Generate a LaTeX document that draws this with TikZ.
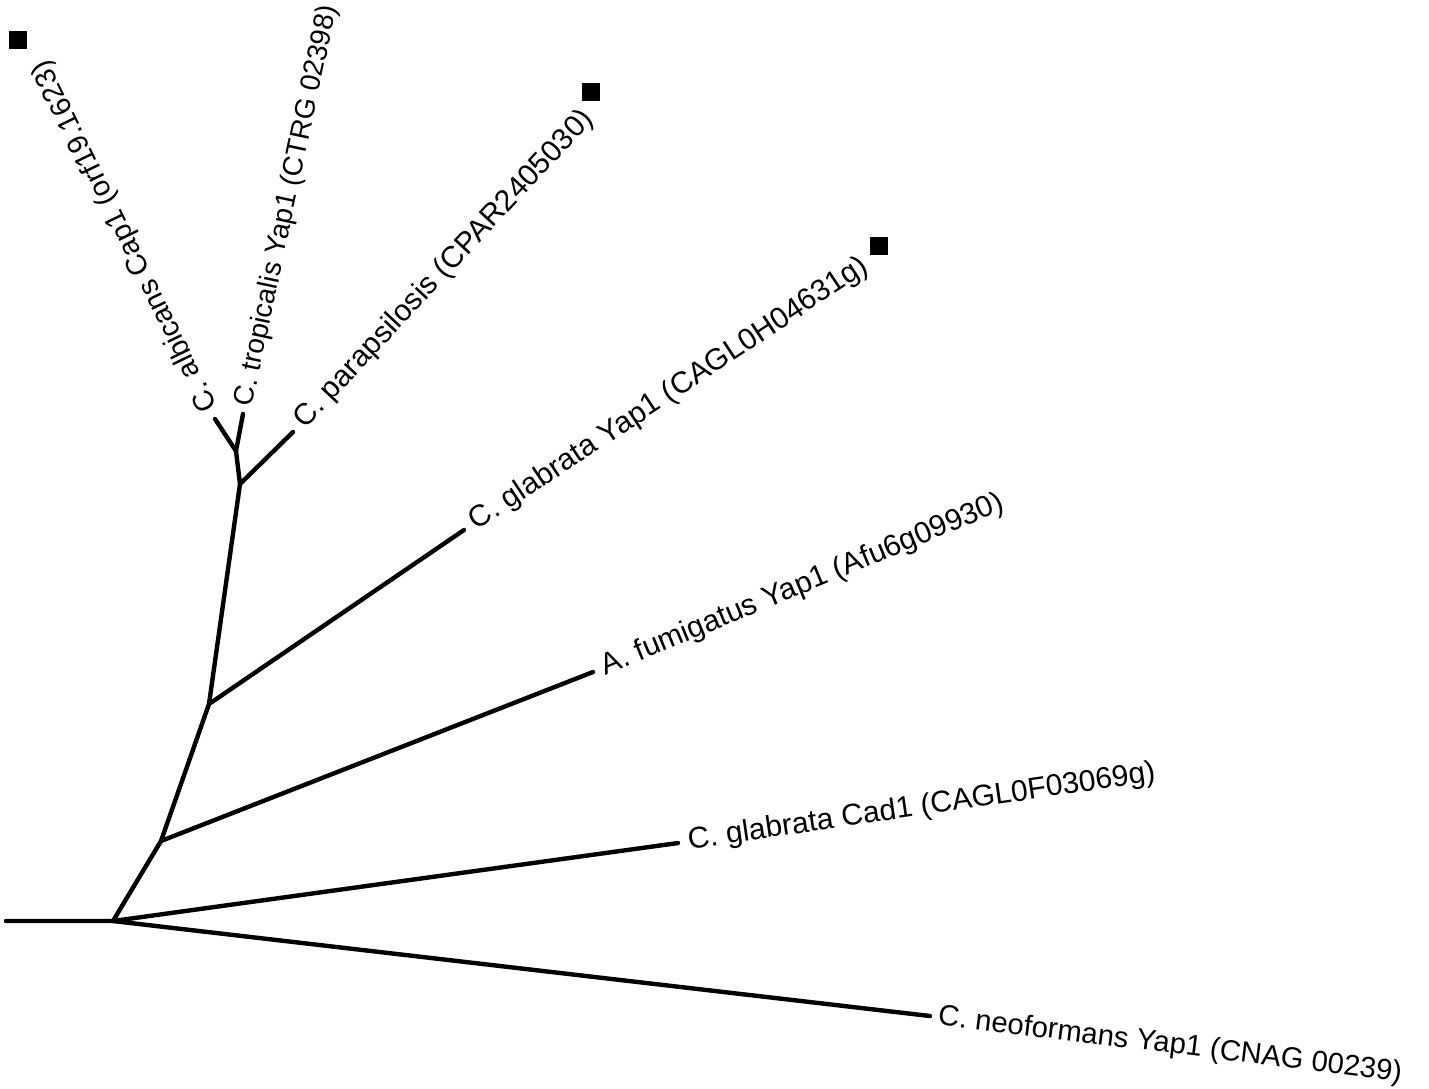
\documentclass[tikz,border=0pt]{standalone}
\usepackage{fontspec}
\setmainfont{Liberation Sans}
\usetikzlibrary{positioning}

\begin{document}
\begin{tikzpicture}[
        x=0.5pt, y=-0.5pt,
        branch/.style={line width=2.2pt, line cap=round, line join=round},
        leaf/.style={anchor=west, inner sep=5pt, font=\fontsize{15}{17}\selectfont},
        tagbox/.style={rectangle, fill=black, minimum size=9pt, inner sep=0pt}
    ]
        \useasboundingbox (0,0) rectangle (1429,1088);
        % inner nodes of the tree
        \coordinate (base) at (6,921);
        \coordinate (root) at (113,921);
        \coordinate (n1) at (161,841);
        \coordinate (n2) at (209,704);
        \coordinate (n3) at (240,484);
        \coordinate (n4) at (236,451);
        % leaves
        \node[leaf, rotate=116, font=\fontsize{14.5}{16}\selectfont] (alb) at (215,419) {C. albicans Cap1 (orf19.1623)};
        \node[leaf, rotate=78, inner sep=4pt, font=\fontsize{14}{16}\selectfont] (trop) at (243,414) {C. tropicalis Yap1 (CTRG 02398)};
        \node[leaf, rotate=47] (para) at (293,432) {C. parapsilosis (CPAR2405030)};
        \node[leaf, rotate=33.5] (gyap) at (464,530) {C. glabrata Yap1 (CAGL0H04631g)};
        \node[leaf, rotate=22.5] (afum) at (593,672) {A. fumigatus Yap1 (Afu6g09930)};
        \node[leaf, rotate=8.3] (gcad) at (678,843) {C. glabrata Cad1 (CAGL0F03069g)};
        \node[leaf, rotate=-7, inner sep=4pt, font=\fontsize{14.6}{16}\selectfont] (neo) at (930,1016) {C. neoformans Yap1 (CNAG 00239)};
        % markers
        \node[tagbox] (markalb) at (18,40) {};
        \node[tagbox] (markpara) at (591,92) {};
        \node[tagbox] (markgyap) at (879,246) {};
        % branches
        \draw[branch] (base) -- (root) -- (n1) -- (n2) -- (n3) -- (n4);
        \draw[branch] (n4) -- (alb.west);
        \draw[branch] (n4) -- (trop.west);
        \draw[branch] (n3) -- (para.west);
        \draw[branch] (n2) -- (gyap.west);
        \draw[branch] (n1) -- (afum.west);
        \draw[branch] (root) -- (gcad.west);
        \draw[branch] (root) -- (neo.west);
    \end{tikzpicture}
\end{document}
